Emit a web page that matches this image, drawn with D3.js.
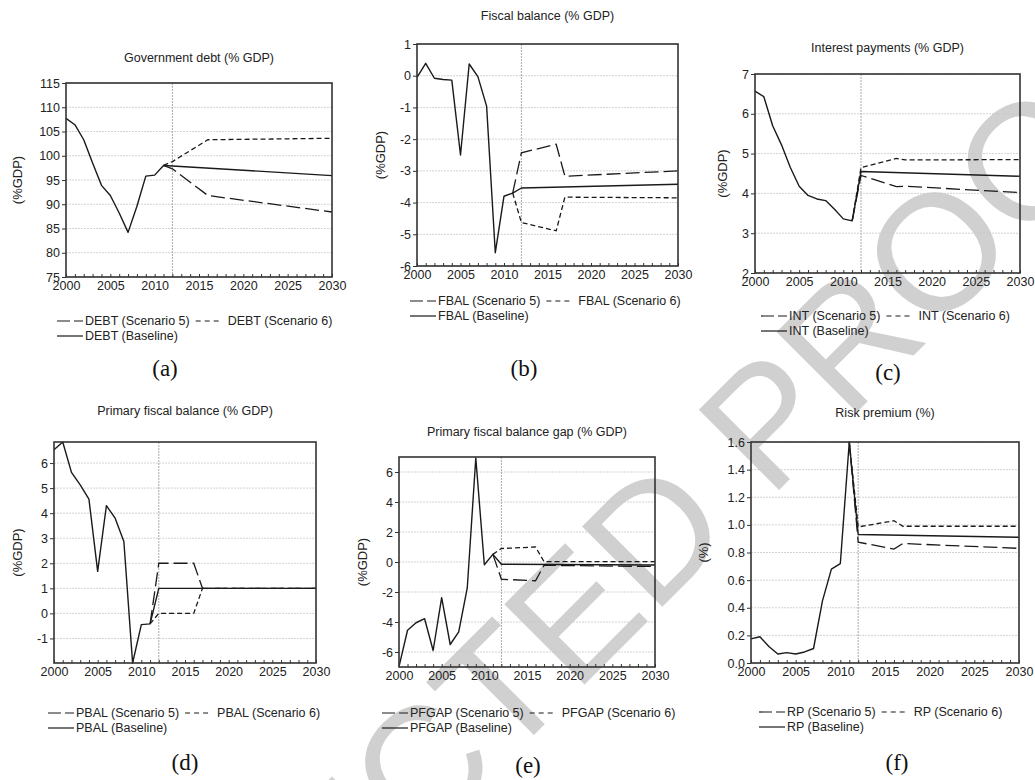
<!DOCTYPE html>
<html>
<head>
<meta charset="utf-8">
<script src="https://cdn.jsdelivr.net/npm/d3@7"></script>
<style>
  body { margin: 0; background: #fff; }
  svg { display: block; font-family: 'Liberation Sans', Arial, sans-serif; }
</style>
</head>
<body>
<svg id="chart" width="1035" height="780"></svg>
<script>
// history is shared by all three runs, 2000-2011
const histYears = d3.range(2000, 2012);
const xTicks = [2000, 2005, 2010, 2015, 2020, 2025, 2030];
const splitYear = 2012;

const debtHist = [107.7, 106.4, 103.3, 98.5, 93.9, 91.8, 88.2, 84.2, 89.6, 95.8, 96.0, 98.0];
const debtBase = [[2012, 97.9], [2030, 95.9]];
const debtS5 = [[2012, 97.3], [2016, 91.8], [2030, 88.4]];
const debtS6 = [[2012, 98.8], [2016, 103.3], [2030, 103.6]];

const fbalHist = [-0.05, 0.39, -0.08, -0.12, -0.14, -2.5, 0.37, -0.03, -0.96, -5.58, -3.8, -3.7];
const fbalBase = [[2012, -3.54], [2030, -3.42]];
const fbalS5 = [[2012, -2.43], [2016, -2.16], [2017, -3.17], [2030, -3.0]];
const fbalS6 = [[2012, -4.63], [2016, -4.89], [2017, -3.83], [2030, -3.85]];

const intHist = [6.57, 6.43, 5.7, 5.22, 4.65, 4.18, 3.95, 3.86, 3.82, 3.6, 3.36, 3.31];
const intBase = [[2012, 4.55], [2030, 4.43]];
const intS5 = [[2012, 4.45], [2016, 4.17], [2017, 4.18], [2030, 4.02]];
const intS6 = [[2012, 4.65], [2016, 4.88], [2017, 4.84], [2030, 4.85]];

const pbalHist = [6.53, 6.84, 5.63, 5.13, 4.56, 1.68, 4.3, 3.8, 2.87, -1.98, -0.45, -0.42];
const pbalBase = [[2012, 1.0], [2030, 1.0]];
const pbalS5 = [[2012, 2.0], [2016, 2.0], [2017, 1.0], [2030, 1.0]];
const pbalS6 = [[2012, 0.0], [2016, 0.0], [2017, 1.0], [2030, 1.0]];

const pfgapHist = [-6.98, -4.55, -4.05, -3.78, -5.9, -2.38, -5.5, -4.66, -1.73, 6.93, -0.18, 0.51];
const pfgapBase = [[2012, -0.15], [2030, -0.2]];
const pfgapS5 = [[2012, -1.15], [2016, -1.25], [2017, -0.22], [2030, -0.3]];
const pfgapS6 = [[2012, 0.9], [2016, 1.0], [2017, 0.02], [2030, 0.02]];

const rpHist = [0.175, 0.19, 0.12, 0.065, 0.075, 0.065, 0.08, 0.105, 0.45, 0.68, 0.72, 1.6];
const rpBase = [[2012, 0.93], [2030, 0.91]];
const rpS5 = [[2012, 0.875], [2016, 0.825], [2017, 0.865], [2030, 0.83]];
const rpS6 = [[2012, 0.985], [2016, 1.03], [2017, 0.99], [2030, 0.99]];

const titles = [
  'Government debt (% GDP)', 'Fiscal balance (% GDP)', 'Interest payments (% GDP)',
  'Primary fiscal balance (% GDP)', 'Primary fiscal balance gap (% GDP)', 'Risk premium (%)'
];
const seriesNames = ['DEBT', 'FBAL', 'INT', 'PBAL', 'PFGAP', 'RP'];
const yLabels = ['(%GDP)', '(%GDP)', '(%GDP)', '(%GDP)', '(%GDP)', '(%)'];
const subLabels = ['(a)', '(b)', '(c)', '(d)', '(e)', '(f)'];
const watermark = 'UNCORRECTED PROOF';

const panels = [
  { hist: debtHist, base: debtBase, s5: debtS5, s6: debtS6, domain: [75, 115], ticks: d3.range(75, 116, 5),
    box: [66, 83, 332, 277], titleY: 62, yLabX: 17, legX: 57, legY: 321, sub: [165, 368] },
  { hist: fbalHist, base: fbalBase, s5: fbalS5, s6: fbalS6, domain: [-6, 1], ticks: d3.range(-6, 2),
    box: [417, 44, 678, 266], titleY: 20, yLabX: 380, legX: 410, legY: 301, sub: [524, 368] },
  { hist: intHist, base: intBase, s5: intS5, s6: intS6, domain: [2, 7], ticks: d3.range(2, 8),
    box: [755, 74, 1020, 273], titleY: 52, yLabX: 722, legX: 761, legY: 316, sub: [888, 372] },
  { hist: pbalHist, base: pbalBase, s5: pbalS5, s6: pbalS6, domain: [-1.98, 6.84], ticks: d3.range(-1, 7),
    box: [54, 442, 316, 663], titleY: 415, yLabX: 17, legX: 48, legY: 713, sub: [185, 762] },
  { hist: pfgapHist, base: pfgapBase, s5: pfgapS5, s6: pfgapS6, domain: [-7, 7], ticks: d3.range(-6, 7, 2),
    box: [399, 457, 655, 667], titleY: 436, yLabX: 362, legX: 382, legY: 713, sub: [528, 765] },
  { hist: rpHist, base: rpBase, s5: rpS5, s6: rpS6, domain: [0, 1.6], ticks: d3.range(0, 1.61, 0.2), fmt: d3.format('.1f'),
    box: [751, 442, 1019, 663], titleY: 417, yLabX: 703, legX: 759, legY: 712, sub: [897, 762] },
];

const svg = d3.select('#chart');

// watermark sits under everything
svg.append('text')
  .attr('transform', 'translate(507,762) rotate(-45)')
  .attr('text-anchor', 'middle')
  .attr('font-size', 165)
  .attr('fill', '#d0d0d0')
  .text(watermark);

const ink = '#1a1a1a';
const longDash = '14,5';
const shortDash = '5,3';

panels.forEach((p, i) => {
  const [x0, y0, x1, y1] = p.box;
  const x = d3.scaleLinear().domain([2000, 2030]).range([x0, x1]);
  const y = d3.scaleLinear().domain(p.domain).range([y1, y0]);
  const g = svg.append('g');
  const fmt = p.fmt || ((d) => String(d));

  // dotted gridlines
  g.append('g')
    .selectAll('line')
    .data(p.ticks)
    .join('line')
    .attr('x1', x0).attr('x2', x1)
    .attr('y1', (d) => y(d)).attr('y2', (d) => y(d))
    .attr('stroke', '#c8c8c8')
    .attr('stroke-width', 0.8)
    .attr('stroke-dasharray', '2,1');

  g.append('line')
    .attr('x1', x(splitYear)).attr('x2', x(splitYear))
    .attr('y1', y0).attr('y2', y1)
    .attr('stroke', '#a0a0a0')
    .attr('stroke-width', 0.9)
    .attr('stroke-dasharray', '2,1');

  const line = d3.line().x((d) => x(d[0])).y((d) => y(d[1]));
  const histPts = histYears.map((yr, k) => [yr, p.hist[k]]);
  const last = histPts[histPts.length - 1];

  g.append('path').datum([last, ...p.s5]).attr('d', line)
    .attr('fill', 'none').attr('stroke', ink).attr('stroke-width', 1.3)
    .attr('stroke-dasharray', longDash);
  g.append('path').datum([last, ...p.s6]).attr('d', line)
    .attr('fill', 'none').attr('stroke', ink).attr('stroke-width', 1.3)
    .attr('stroke-dasharray', shortDash);
  g.append('path').datum([...histPts, ...p.base]).attr('d', line)
    .attr('fill', 'none').attr('stroke', ink).attr('stroke-width', 1.4)
    .attr('stroke-linejoin', 'round');

  // axes
  const yAxis = g.append('g')
    .attr('transform', `translate(${x0},0)`)
    .call(d3.axisLeft(y).tickValues(p.ticks).tickFormat(fmt).tickSize(4).tickPadding(2));
  const xAxis = g.append('g')
    .attr('transform', `translate(0,${y1})`)
    .call(d3.axisBottom(x).tickValues(d3.range(2000, 2031)).tickFormat('').tickSize(-3));
  g.append('g')
    .attr('transform', `translate(0,${y1})`)
    .call(d3.axisBottom(x).tickValues(xTicks).tickFormat((d) => String(d)).tickSize(0).tickPadding(4))
    .call((a) => a.select('.domain').remove());

  [yAxis, xAxis].forEach((a) => {
    a.select('.domain').remove();
    a.selectAll('line').attr('stroke', '#333').attr('stroke-width', 1);
  });
  g.selectAll('.tick text').attr('font-size', 12.5).attr('fill', '#222')
    .attr('font-family', "'Liberation Sans', Arial, sans-serif");

  g.append('rect')
    .attr('x', x0).attr('y', y0).attr('width', x1 - x0).attr('height', y1 - y0)
    .attr('fill', 'none').attr('stroke', '#333').attr('stroke-width', 1.6);

  g.append('text')
    .attr('x', (x0 + x1) / 2).attr('y', p.titleY)
    .attr('text-anchor', 'middle').attr('font-size', 12.5).attr('fill', '#222')
    .text(titles[i]);

  g.append('text')
    .attr('transform', `translate(${p.yLabX},${(y0 + y1) / 2}) rotate(-90)`)
    .attr('text-anchor', 'middle').attr('dy', '0.35em')
    .attr('font-size', 13).attr('fill', '#222')
    .text(yLabels[i]);

  // legend
  const leg = g.append('g').attr('font-size', 12.5).attr('fill', '#222');
  const row2 = p.legY + 15;
  leg.append('line').attr('x1', p.legX).attr('x2', p.legX + 26).attr('y1', p.legY).attr('y2', p.legY)
    .attr('stroke', ink).attr('stroke-width', 1.2).attr('stroke-dasharray', '13,4');
  const t1 = leg.append('text').attr('x', p.legX + 28).attr('y', p.legY).attr('dy', '0.35em')
    .text(`${seriesNames[i]} (Scenario 5)`);
  const end1 = p.legX + 28 + t1.node().getComputedTextLength();
  leg.append('line').attr('x1', end1 + 6).attr('x2', end1 + 29).attr('y1', p.legY).attr('y2', p.legY)
    .attr('stroke', ink).attr('stroke-width', 1.2).attr('stroke-dasharray', '5,4');
  leg.append('text').attr('x', end1 + 38).attr('y', p.legY).attr('dy', '0.35em')
    .text(`${seriesNames[i]} (Scenario 6)`);
  leg.append('line').attr('x1', p.legX).attr('x2', p.legX + 26).attr('y1', row2).attr('y2', row2)
    .attr('stroke', ink).attr('stroke-width', 1.2);
  leg.append('text').attr('x', p.legX + 28).attr('y', row2).attr('dy', '0.35em')
    .text(`${seriesNames[i]} (Baseline)`);

  g.append('text')
    .attr('x', p.sub[0]).attr('y', p.sub[1]).attr('dy', '0.35em')
    .attr('text-anchor', 'middle')
    .attr('font-family', "'Liberation Serif', 'Times New Roman', serif")
    .attr('font-size', 23).attr('fill', '#111')
    .text(subLabels[i]);
});
</script>
</body>
</html>
